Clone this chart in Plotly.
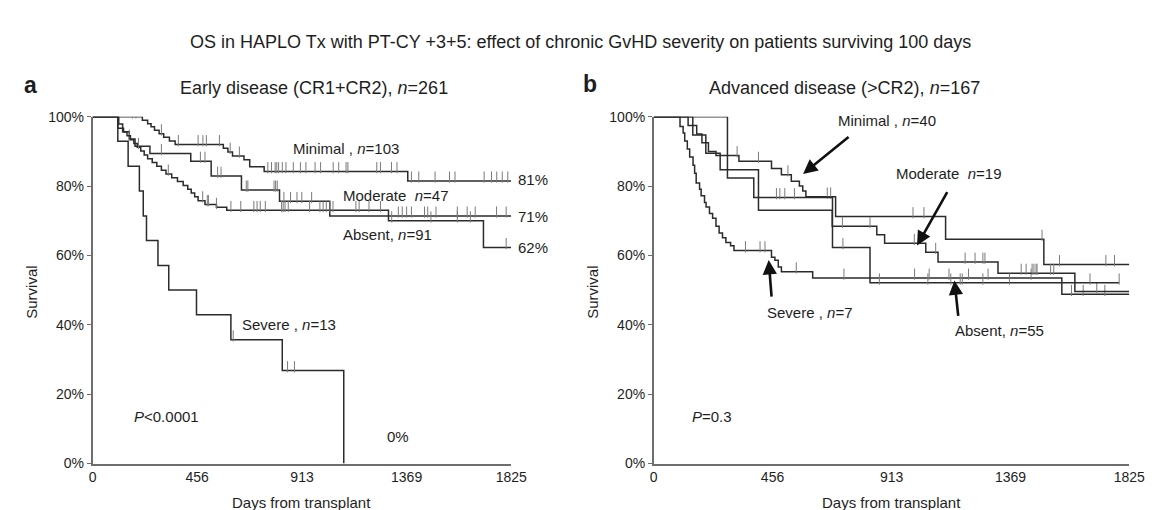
import plotly.graph_objects as go

# ---------------- data ----------------
x_ticks = [0, 456, 913, 1369, 1825]
y_ticks = [0, 20, 40, 60, 80, 100]
y_tick_labels = ["0%", "20%", "40%", "60%", "80%", "100%"]

# Panel a: Early disease (CR1+CR2), n=261  -- step curves (day of drop, survival % after drop)
a_minimal_days = [0, 217, 240, 255, 270, 290, 310, 335, 360, 570, 590, 610, 660, 685, 748, 1374, 1825]
a_minimal_surv = [100, 99.0, 98.0, 97.1, 96.1, 95.1, 94.1, 93.0, 92.0, 90.9, 89.8, 88.7, 87.6, 85.6, 84.2, 81.5, 81.5]
a_minimal_cens = [174, 189, 300, 374, 460, 481, 496, 553, 600, 640, 764, 780, 796, 803, 811, 827, 843, 875,
                  906, 930, 970, 994, 1049, 1073, 1105, 1113, 1239, 1255, 1303, 1327, 1390, 1422, 1493,
                  1556, 1580, 1707, 1739, 1762, 1786, 1810]

a_moderate_days = [0, 114, 131, 160, 185, 250, 428, 517, 649, 815, 1034, 1825]
a_moderate_surv = [100, 97.9, 95.7, 93.6, 91.5, 89.4, 87.2, 82.9, 78.9, 75.6, 71.4, 71.4]
a_moderate_cens = [160, 300, 470, 490, 545, 560, 670, 677, 791, 798, 805, 834, 863, 891, 912, 955, 1333,
                   1350, 1369, 1390, 1447, 1461, 1497, 1590, 1633, 1668, 1761, 1803]

a_absent_days = [0, 110, 135, 150, 165, 180, 195, 210, 225, 240, 260, 280, 300, 320, 345, 370, 395, 415,
                 430, 445, 460, 490, 540, 585, 1290, 1704, 1825]
a_absent_surv = [100, 96.7, 95.6, 94.5, 93.4, 92.3, 91.2, 90.1, 89.0, 87.9, 86.8, 85.7, 84.6, 83.5, 82.4,
                 81.3, 80.2, 79.1, 78.0, 76.9, 75.8, 74.7, 73.9, 73.0, 70.0, 62.3, 62.3]
a_absent_cens = [200, 330, 480, 500, 505, 540, 603, 646, 703, 717, 731, 753, 824, 831, 839, 853, 946, 991,
                 1005, 1019, 1034, 1048, 1148, 1162, 1205, 1255, 1304, 1475, 1590, 1647, 1803]

a_severe_days = [0, 110, 155, 204, 221, 235, 285, 332, 453, 603, 827, 1095]
a_severe_surv = [100, 92.9, 85.7, 78.6, 71.4, 64.3, 57.1, 50.0, 42.9, 35.7, 26.8, 0]
a_severe_cens = [613, 850, 880]

# Panel b: Advanced disease (>CR2), n=167
b_severe_days = [0, 101, 113, 119, 129, 138, 151, 157, 163, 176, 182, 195, 201, 214, 226, 239, 251, 264,
                 277, 295, 308, 452, 465, 478, 490, 610, 1566, 1825]
b_severe_surv = [100, 97.2, 95.3, 93.0, 90.7, 88.4, 86.0, 83.7, 80.9, 79.1, 77.2, 75.3, 74.0, 72.1, 70.7,
                 68.4, 66.5, 65.1, 63.7, 62.8, 61.4, 59.5, 58.6, 56.7, 55.3, 53.5, 48.8, 48.8]
b_severe_cens = [352, 408, 427, 547, 730, 1001, 1057, 1133, 1208, 1283, 1448, 1603, 1648, 1731]

b_minimal_days = [0, 132, 165, 185, 210, 239, 327, 452, 490, 528, 559, 572, 584, 698, 1120, 1497, 1825]
b_minimal_surv = [100, 97.5, 95.0, 92.5, 90.0, 88.8, 87.2, 85.1, 83.3, 81.4, 80.0, 78.6, 76.9, 71.2, 64.7,
                  57.4, 57.4]
b_minimal_cens = [320, 402, 515, 666, 679, 995, 1037, 1490, 1557, 1735, 1768]

b_moderate_days = [0, 150, 200, 255, 402, 685, 856, 886, 1044, 1091, 1321, 1616, 1825]
b_moderate_surv = [100, 94.7, 89.5, 84.7, 73.0, 68.4, 66.0, 63.5, 60.9, 58.1, 54.9, 49.6, 49.6]
b_moderate_cens = [724, 830, 1000, 1082, 1195, 1233, 1263, 1271, 1410, 1429, 1452, 1459, 1467, 1471,
                   1523, 1535, 1700]

b_absent_days = [0, 283, 384, 686, 830, 1786]
b_absent_surv = [100, 82.3, 76.7, 62.3, 52.1, 52.1]
b_absent_cens = [471, 484, 503, 540, 726, 866, 1052, 1140, 1176, 1184, 1263, 1365, 1674, 1786]

# ---------------- figure ----------------
W, H = 1156, 510
FONT = "Liberation Sans, Arial, sans-serif"
CURVE = "#2b2b2b"
TICKC = "#7a7a7a"
AXC = "#6e6e6e"
TXT = "#1e1e1e"


def px(x):
    return x / W


def py(y):
    return 1 - y / H


def level_at(days, surv, t):
    v = surv[0]
    for d, s in zip(days, surv):
        if d <= t:
            v = s
    return v


fig = go.Figure()


def add_curve(days, surv, cens, xa, ya, name):
    fig.add_trace(go.Scatter(x=days, y=surv, mode="lines", line=dict(shape="hv", color=CURVE, width=1.5),
                             xaxis=xa, yaxis=ya, name=name, showlegend=False, hoverinfo="skip"))
    cy = [level_at(days, surv, t) + 1.1 for t in cens]
    fig.add_trace(go.Scatter(x=cens, y=cy, mode="markers",
                             marker=dict(symbol="line-ns", size=8, line=dict(width=1, color=TICKC)),
                             xaxis=xa, yaxis=ya, name=name + " censored", showlegend=False, hoverinfo="skip"))


add_curve(a_minimal_days, a_minimal_surv, a_minimal_cens, "x", "y", "Minimal")
add_curve(a_moderate_days, a_moderate_surv, a_moderate_cens, "x", "y", "Moderate")
add_curve(a_absent_days, a_absent_surv, a_absent_cens, "x", "y", "Absent")
add_curve(a_severe_days, a_severe_surv, a_severe_cens, "x", "y", "Severe")

add_curve(b_severe_days, b_severe_surv, b_severe_cens, "x2", "y2", "Severe")
add_curve(b_minimal_days, b_minimal_surv, b_minimal_cens, "x2", "y2", "Minimal")
add_curve(b_moderate_days, b_moderate_surv, b_moderate_cens, "x2", "y2", "Moderate")
add_curve(b_absent_days, b_absent_surv, b_absent_cens, "x2", "y2", "Absent")

ydom = [py(462), py(104)]
axis_common = dict(showgrid=False, zeroline=False, showline=True, linecolor=AXC, linewidth=1.5,
                   tickfont=dict(family=FONT, size=14, color=TXT), mirror=False)

fig.update_layout(
    width=W, height=H, plot_bgcolor="white", paper_bgcolor="white",
    margin=dict(l=0, r=0, t=0, b=0),
    font=dict(family=FONT, color=TXT),
    xaxis=dict(domain=[px(82), px(508)], range=[0, 1825], tickvals=x_ticks, ticks="", anchor="y",
               **axis_common),
    yaxis=dict(domain=ydom, range=[0, 100], tickvals=y_ticks, ticktext=y_tick_labels, ticks="outside",
               ticklen=4, tickcolor=AXC, anchor="x", **axis_common),
    xaxis2=dict(domain=[px(653), px(1137)], range=[0, 1825], tickvals=x_ticks, ticks="", anchor="y2",
                **axis_common),
    yaxis2=dict(domain=ydom, range=[0, 100], tickvals=y_ticks, ticktext=y_tick_labels, ticks="outside",
                ticklen=4, tickcolor=AXC, anchor="x2", **axis_common),
)

ann = []


def txt(x, y, s, size=15, xanchor="center", bold=False, angle=0):
    ann.append(dict(x=px(x), y=py(y), xref="paper", yref="paper", text=("<b>%s</b>" % s) if bold else s,
                    showarrow=False, xanchor=xanchor, yanchor="middle", textangle=angle,
                    font=dict(family=FONT, size=size, color=TXT)))


def arrow(hx, hy, tx, ty):
    ann.append(dict(x=px(hx), y=py(hy), xref="paper", yref="paper", text="", showarrow=True,
                    ax=tx - hx, ay=ty - hy, axref="pixel", ayref="pixel",
                    arrowhead=2, arrowsize=1.1, arrowwidth=2.6, arrowcolor="#111"))


txt(578, 27, "OS in HAPLO Tx with PT-CY +3+5: effect of chronic GvHD severity on patients surviving 100 days", 18)
txt(10, 71, "a", 23, "left", bold=True)
txt(307, 74, "Early disease (CR1+CR2), <i>n</i>=261", 18)
txt(579, 70, "b", 23, "left", bold=True)
txt(847, 74, "Advanced disease (&gt;CR2), <i>n</i>=167", 18)

# axis titles
txt(295, 502, "Days from transplant", 15)
txt(895, 502, "Days from transplant", 15)
txt(19, 285, "Survival", 15, angle=-90)
txt(590, 285, "Survival", 15, angle=-90)

# panel a labels
txt(340, 137, "Minimal , <i>n</i>=103", 15)
txt(335, 185, "Moderate  <i>n</i>=47", 15, "left")
txt(335, 226, "Absent, <i>n</i>=91", 15, "left")
txt(232, 318, "Severe , <i>n</i>=13", 15, "left")
txt(513, 169, "81%", 15, "left")
txt(513, 207, "71%", 15, "left")
txt(513, 239, "62%", 15, "left")
txt(122, 413, "<i>P</i>&lt;0.0001", 15, "left")
txt(380, 434, "0%", 15, "left")

# panel b labels
txt(838, 108, "Minimal , <i>n</i>=40", 15, "left")
txt(898, 163, "Moderate  <i>n</i>=19", 15, "left")
txt(766, 306, "Severe , <i>n</i>=7", 15, "left")
txt(958, 325, "Absent, <i>n</i>=55", 15, "left")
txt(690, 413, "<i>P</i>=0.3", 15, "left")

arrow(805, 163, 852, 125)
arrow(921, 237, 952, 182)
arrow(770, 252, 773, 290)
arrow(959, 273, 963, 310)

fig.update_layout(annotations=ann)
fig.write_html("out.html")
